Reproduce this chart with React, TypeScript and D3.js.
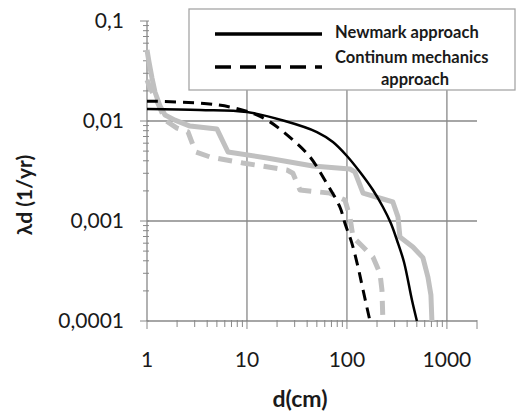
import React from 'react';
import * as d3 from 'd3';

// d (cm) / lambda_d (1/yr)
const newmarkD = [1, 3.39, 10, 24, 50.1, 72.4, 100, 135, 182, 229, 275, 316, 372, 447, 501];
const newmarkL = [0.0132, 0.0129, 0.0123, 0.01, 0.00776, 0.00617, 0.00447, 0.00309, 0.00204, 0.00138, 0.00095, 0.000646, 0.000389, 0.000162, 0.0001];

const continuumD = [1, 3.39, 6.76, 12, 17, 28.8, 42.7, 60, 85, 95.5, 112, 129, 145, 170];
const continuumL = [0.0158, 0.0151, 0.0138, 0.0117, 0.0098, 0.00646, 0.00437, 0.00257, 0.00138, 0.00095, 0.0006, 0.000347, 0.000204, 0.0001];

const graySolidD = [1, 1.047, 1.122, 1.202, 1.349, 1.514, 1.905, 2.69, 5.01, 6.46, 15.8, 45.7, 107, 120, 145, 229, 288, 324, 339, 457, 575, 646, 692, 708];
const graySolidL = [0.0513, 0.0389, 0.0269, 0.0195, 0.0141, 0.0115, 0.0102, 0.0089, 0.0083, 0.0049, 0.00427, 0.00355, 0.00331, 0.0031, 0.0019, 0.00166, 0.00155, 0.0011, 0.00069, 0.00055, 0.00043, 0.000275, 0.000182, 0.0001];

const grayDashedD = [1, 1.072, 1.202, 1.349, 1.514, 1.995, 2.57, 2.88, 3.09, 4.27, 9.12, 25.1, 28.8, 33.9, 67.6, 95.5, 107, 115, 145, 182, 214, 224, 229];
const grayDashedL = [0.0257, 0.0214, 0.0174, 0.0135, 0.0102, 0.0085, 0.0078, 0.00575, 0.0049, 0.00437, 0.0038, 0.00324, 0.003, 0.00204, 0.0019, 0.00162, 0.0011, 0.00069, 0.00055, 0.000437, 0.0003, 0.000204, 0.0001];

const xTicks = [1, 10, 100, 1000];
const xTickLabels = ['1', '10', '100', '1000'];
const yTicks = [0.1, 0.01, 0.001, 0.0001];
const yTickLabels = ['0,1', '0,01', '0,001', '0,0001'];

const legendLabels = ['Newmark approach', 'Continum mechanics', 'approach'];

const W = 516;
const H = 411;
const FONT = 'Lato, "DejaVu Sans", sans-serif';
const AXIS = '#888';

export default function App() {
  const x = d3.scaleLog().domain([1, 2000]).range([147, 477]);
  const y = d3.scaleLog().domain([0.0001, 0.1]).range([321, 21]);

  const smooth = d3
    .line<[number, number]>()
    .x(p => x(p[0]))
    .y(p => y(p[1]))
    .curve(d3.curveCatmullRom.alpha(0.5));
  const straight = d3
    .line<[number, number]>()
    .x(p => x(p[0]))
    .y(p => y(p[1]));

  const zip = (a: number[], b: number[]) => a.map((v, i) => [v, b[i]] as [number, number]);

  const isMajor = (v: number) => Math.abs(Math.log10(v) - Math.round(Math.log10(v))) < 1e-6;

  return (
    <svg width={W} height={H} style={{ position: 'absolute', left: 0, top: 0, background: '#fff' }}>
      {/* grid */}
      {xTicks.slice(1).map(t => (
        <line key={'gx' + t} x1={x(t)} x2={x(t)} y1={y(0.1)} y2={y(0.0001)} stroke={AXIS} strokeWidth={1.3} />
      ))}
      {yTicks.slice(1, 3).map(t => (
        <line key={'gy' + t} x1={x(1)} x2={x(2000)} y1={y(t)} y2={y(t)} stroke={AXIS} strokeWidth={1.3} />
      ))}

      {/* axes */}
      <line x1={x(1)} x2={x(1)} y1={y(0.1)} y2={y(0.0001)} stroke={AXIS} strokeWidth={1.3} />
      <line x1={x(1)} x2={x(2000)} y1={y(0.0001)} y2={y(0.0001)} stroke={AXIS} strokeWidth={1.3} />
      {y.ticks().map((t, i) => (
        <line key={'yt' + i} x1={x(1) - (isMajor(t) ? 7 : 4)} x2={x(1) + 2} y1={y(t)} y2={y(t)} stroke={AXIS} strokeWidth={1} />
      ))}
      {x.ticks().map((t, i) => (
        <line key={'xt' + i} x1={x(t)} x2={x(t)} y1={y(0.0001) - 1} y2={y(0.0001) + (isMajor(t) || t === 2000 ? 8 : 6)} stroke={AXIS} strokeWidth={1} />
      ))}

      {/* series */}
      <path d={straight(zip(graySolidD, graySolidL)) || ''} fill="none" stroke="#c0c0c0" strokeWidth={5} strokeLinejoin="round" />
      <path d={straight(zip(grayDashedD, grayDashedL)) || ''} fill="none" stroke="#c0c0c0" strokeWidth={5} strokeDasharray="14,9" strokeLinejoin="round" />
      <path d={smooth(zip(newmarkD, newmarkL)) || ''} fill="none" stroke="#000" strokeWidth={2.5} />
      <path d={smooth(zip(continuumD, continuumL)) || ''} fill="none" stroke="#000" strokeWidth={3} strokeDasharray="11,7" />

      {/* tick labels */}
      {yTicks.map((t, i) => (
        <text key={'yl' + t} x={124} y={y(t)} dy="0.35em" textAnchor="end" fontFamily={FONT} fontSize={21} fill="#1a1a1a">
          {yTickLabels[i]}
        </text>
      ))}
      {xTicks.map((t, i) => (
        <text key={'xl' + t} x={x(t)} y={360} dy="0.35em" textAnchor="middle" fontFamily={FONT} fontSize={21} fill="#1a1a1a">
          {xTickLabels[i]}
        </text>
      ))}

      {/* axis titles */}
      <text x={300} y={399} dy="0.35em" textAnchor="middle" fontFamily={FONT} fontSize={23} fontWeight="bold" fill="#1a1a1a">
        d(cm)
      </text>
      <text transform="translate(25,195) rotate(-90)" dy="0.35em" textAnchor="middle" fontFamily={FONT} fontSize={21} fontWeight="bold" fill="#1a1a1a">
        λd (1/yr)
      </text>

      {/* legend */}
      <rect x={189} y={9} width={326} height={81} fill="#fff" stroke="#a6a6a6" strokeWidth={1.3} />
      <line x1={215} x2={322} y1={34} y2={34} stroke="#000" strokeWidth={3.3} />
      <line x1={215} x2={322} y1={67} y2={67} stroke="#000" strokeWidth={3.3} strokeDasharray="16,9" />
      <text x={335} y={32} dy="0.35em" fontFamily={FONT} fontSize={16.5} fontWeight="bold" fill="#1a1a1a">
        {legendLabels[0]}
      </text>
      <text x={335} y={57} dy="0.35em" fontFamily={FONT} fontSize={16.5} fontWeight="bold" fill="#1a1a1a">
        {legendLabels[1]}
      </text>
      <text x={415} y={79} dy="0.35em" textAnchor="middle" fontFamily={FONT} fontSize={16.5} fontWeight="bold" fill="#1a1a1a">
        {legendLabels[2]}
      </text>
    </svg>
  );
}
